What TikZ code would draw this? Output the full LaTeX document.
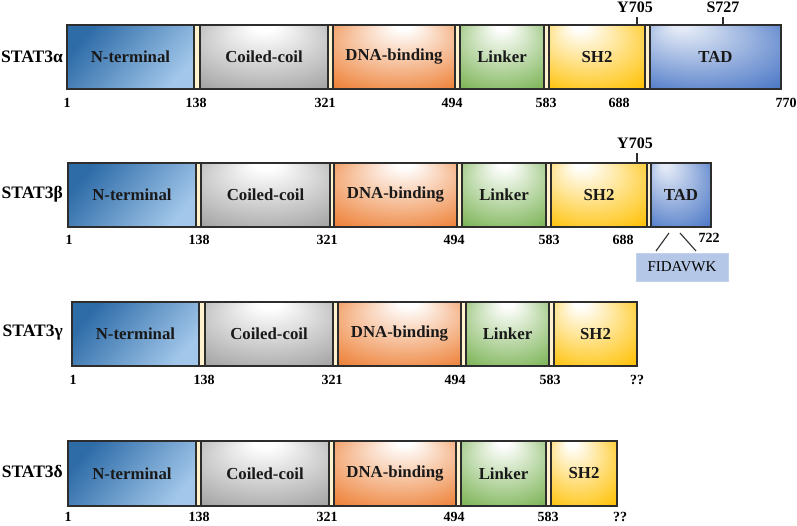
\documentclass[tikz,border=0pt]{standalone}
\usepackage{fontspec}
\setmainfont{Liberation Serif}
\definecolor{edgec}{RGB}{45,45,45}
\definecolor{coilc}{RGB}{150,150,150}
\definecolor{dnac}{RGB}{237,125,49}
\definecolor{linkc}{RGB}{112,173,71}
\definecolor{sh2c}{RGB}{255,192,0}
\definecolor{tadc}{RGB}{68,114,196}
\definecolor{ntdark}{RGB}{46,108,168}
\definecolor{ntlight}{RGB}{162,199,234}
\definecolor{spacerc}{RGB}{255,242,204}
\definecolor{motifc}{RGB}{180,199,231}
\pgfdeclareradialshading{coilsh}{\pgfpoint{0bp}{26bp}}{color(0bp)=(white); color(4bp)=(white); color(44bp)=(coilc); color(50bp)=(coilc)}
\pgfdeclareradialshading{dnash}{\pgfpoint{4bp}{26bp}}{color(0bp)=(white); color(3bp)=(white); color(40bp)=(dnac); color(50bp)=(dnac)}
\pgfdeclareradialshading{linksh}{\pgfpoint{0bp}{26bp}}{color(0bp)=(white); color(3bp)=(white); color(42bp)=(linkc); color(50bp)=(linkc)}
\pgfdeclareradialshading{sh2sh}{\pgfpoint{-10bp}{26bp}}{color(0bp)=(white); color(3bp)=(white); color(40bp)=(sh2c); color(50bp)=(sh2c)}
\pgfdeclareradialshading{tadsh}{\pgfpoint{-14bp}{26bp}}{color(0bp)=(white!85!tadc); color(3bp)=(white!85!tadc); color(42bp)=(tadc); color(50bp)=(tadc)}
\newcommand\dombox[7]{%
  \node[#6, minimum width={(#3-#2)*1pt}, minimum height={(#5-#4)*1pt}] (#1) at ({(#2+#3)/2},{(#4+#5)/2}) {#7};}
\begin{document}
\begin{tikzpicture}[x=1pt,y=-1pt,
  dom/.style={draw=edgec, line width=1.2pt, inner sep=0pt, outer sep=0pt,
    font=\fontsize{16.8}{19}\selectfont\bfseries, text=black!90},
  nterm/.style={dom, top color=ntdark, bottom color=ntlight, shading angle=50},
  coil/.style={dom, shading=coilsh},
  dna/.style={dom, shading=dnash},
  link/.style={dom, shading=linksh},
  sh2/.style={dom, shading=sh2sh},
  tad/.style={dom, shading=tadsh},
  spacer/.style={dom, fill=spacerc},
  num/.style={font=\fontsize{14}{16}\selectfont\bfseries, inner sep=0pt},
  iso/.style={font=\fontsize{17.5}{20}\selectfont\bfseries, inner sep=0pt, anchor=east},
  site/.style={font=\fontsize{16}{19}\selectfont\bfseries, inner sep=0pt},
  tick/.style={draw=edgec, line width=1.3pt},
  motif/.style={fill=motifc, draw=motifc!80!white, inner sep=0pt, minimum width=92pt, minimum height=28pt,
    font=\fontsize{15}{18}\selectfont},
  thinline/.style={draw=edgec, line width=1.1pt}
]
\useasboundingbox (0,0) rectangle (797,525);

% ---------- STAT3 alpha ----------
\node[iso] (aI) at (63,57) {STAT3α};
\foreach \nm/\xa/\xb/\st/\tx in {aN/67/194/nterm/N-terminal, aC/200/328/coil/Coiled-coil, aD/333/455/dna/DNA-binding, aL/460/544/link/Linker, aH/549/645/sh2/SH2, aT/650/781/tad/TAD}
  {\dombox{\nm}{\xa}{\xb}{25}{89}{\st}{\tx}}
\foreach \i/\xa/\xb in {1/194/200, 2/328/333, 3/455/460, 4/544/549, 5/645/650}
  {\dombox{aS\i}{\xa}{\xb}{25}{89}{spacer}{}}
\foreach \i/\xx/\tx in {1/67/1, 2/196/138, 3/325/321, 4/452/494, 5/546/583, 6/619/688, 7/786/770}
  {\node[num] (aP\i) at (\xx,103) {\tx};}
\node[site] (aYl) at (635,7) {Y705};
\coordinate (aYt) at (637,17);
\draw[tick] (aYt) -- (aYt |- aH.north);
\node[site] (aSl) at (723,7) {S727};
\coordinate (aSt) at (723,17);
\draw[tick] (aSt) -- (aSt |- aT.north);

% ---------- STAT3 beta ----------
\node[iso] (bI) at (63,194) {STAT3β};
\foreach \nm/\xa/\xb/\st/\tx in {bN/68/196/nterm/N-terminal, bC/201/330/coil/Coiled-coil, bD/334/457/dna/DNA-binding, bL/462/546/link/Linker, bH/551/647/sh2/SH2, bT/651/711/tad/TAD}
  {\dombox{\nm}{\xa}{\xb}{163}{227}{\st}{\tx}}
\foreach \i/\xa/\xb in {1/196/201, 2/330/334, 3/457/462, 4/546/551, 5/647/651}
  {\dombox{bS\i}{\xa}{\xb}{163}{227}{spacer}{}}
\foreach \i/\xx/\tx in {1/69/1, 2/199/138, 3/327/321, 4/454/494, 5/549/583, 6/623/688}
  {\node[num] (bP\i) at (\xx,240) {\tx};}
\node[num] (bP7) at (709,238) {722};
\node[site] (bYl) at (635,143) {Y705};
\coordinate (bYt) at (637,153);
\draw[tick] (bYt) -- (bYt |- bH.north);
\node[motif] (bF) at (682,267) {FIDAVWK};
\coordinate (bA1) at (669,233);
\coordinate (bA2) at (656,251);
\coordinate (bB1) at (680,233);
\coordinate (bB2) at (696,251);
\draw[thinline] (bA1) -- (bA2);
\draw[thinline] (bB1) -- (bB2);

% ---------- STAT3 gamma ----------
\node[iso] (gI) at (63,333) {STAT3γ};
\foreach \nm/\xa/\xb/\st/\tx in {gN/72/199/nterm/N-terminal, gC/205/333/coil/Coiled-coil, gD/338/461/dna/DNA-binding, gL/466/549/link/Linker, gH/554/637/sh2/SH2}
  {\dombox{\nm}{\xa}{\xb}{302}{366}{\st}{\tx}}
\foreach \i/\xa/\xb in {1/199/205, 2/333/338, 3/461/466, 4/549/554}
  {\dombox{gS\i}{\xa}{\xb}{302}{366}{spacer}{}}
\foreach \i/\xx/\tx in {1/73/1, 2/204/138, 3/332/321, 4/455/494, 5/550/583, 6/637/??}
  {\node[num] (gP\i) at (\xx,380) {\tx};}

% ---------- STAT3 delta ----------
\node[iso] (dI) at (63,472) {STAT3δ};
\foreach \nm/\xa/\xb/\st/\tx in {dN/68/196/nterm/N-terminal, dC/201/329/coil/Coiled-coil, dD/334/456/dna/DNA-binding, dL/461/546/link/Linker, dH/551/617/sh2/SH2}
  {\dombox{\nm}{\xa}{\xb}{441}{506}{\st}{\tx}}
\foreach \i/\xa/\xb in {1/196/201, 2/329/334, 3/456/461, 4/546/551}
  {\dombox{dS\i}{\xa}{\xb}{441}{506}{spacer}{}}
\foreach \i/\xx/\tx in {1/68/1, 2/199/138, 3/327/321, 4/454/494, 5/548/583, 6/620/??}
  {\node[num] (dP\i) at (\xx,517) {\tx};}
\end{tikzpicture}
\end{document}
